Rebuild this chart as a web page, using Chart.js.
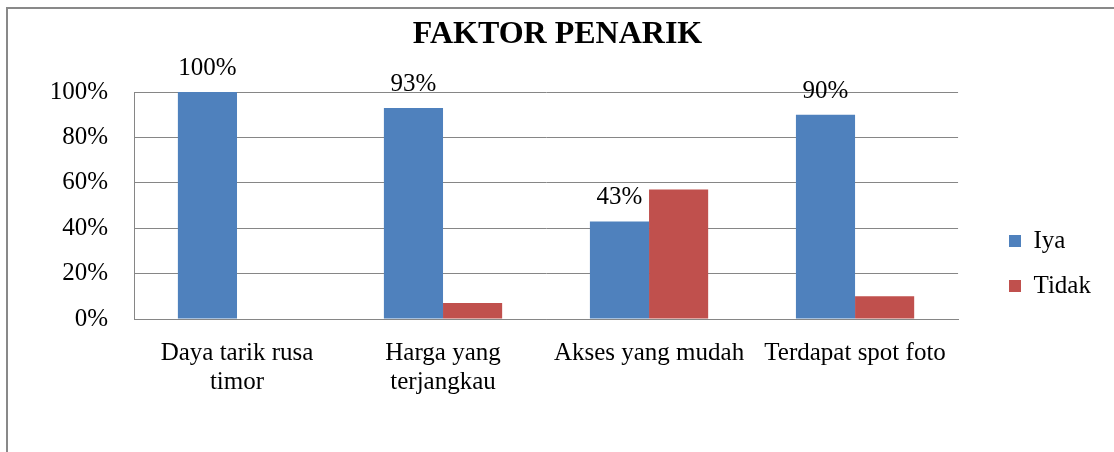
<!DOCTYPE html>
<html>
<head>
<meta charset="utf-8">
<title>Faktor Penarik</title>
<script src="https://cdn.jsdelivr.net/npm/chart.js@4"></script>
<style>
  html, body { margin: 0; padding: 0; background: #fff; overflow: hidden; }
  #frame { position: absolute; left: 6px; top: 7px; width: 1130px; height: 509px; border: 2px solid #898989; }
  canvas { display: block; }
</style>
</head>
<body>
<div id="frame"><canvas id="myChart"></canvas></div>
<script>
// Data
const categories = [["Daya tarik rusa", "timor"], ["Harga yang", "terjangkau"], "Akses yang mudah", "Terdapat spot foto"];
const iya = [100, 93, 43, 90];
const tidak = [0, 7, 57, 10];
const yTicks = [0, 20, 40, 60, 80, 100];

Chart.defaults.font.family = "'Liberation Serif', 'Times New Roman', serif";
Chart.defaults.font.size = 25;
Chart.defaults.color = "#000";

const ctx = document.getElementById("myChart").getContext("2d");

// percentage labels above the "Iya" bars
const valueLabels = {
  id: "valueLabels",
  afterDatasetsDraw(chart) {
    const c = chart.ctx;
    const meta = chart.getDatasetMeta(0);
    c.save();
    c.font = "25px 'Liberation Serif', serif";
    c.fillStyle = "#000";
    c.textAlign = "center";
    c.textBaseline = "alphabetic";
    meta.data.forEach((bar, i) => {
      c.fillText(iya[i] + "%", bar.x, bar.y - 17);
    });
    c.restore();
  },
};

// push the legend a bit away from the plot, like in Excel
const legendShift = {
  id: "legendShift",
  afterLayout(chart) {
    const shift = 1001 - (chart.legend.left + 20);
    chart.legend.left += shift;
    chart.legend.right += shift;
  },
};

const data = {
  labels: categories,
  datasets: [
    {
      label: "Iya",
      data: iya,
      backgroundColor: "#4F81BD",
      borderWidth: 0,
    },
    {
      label: "Tidak",
      data: tidak,
      backgroundColor: "#C0504D",
      borderWidth: 0,
    },
  ],
};

const config = {
  type: "bar",
  data: data,
  options: {
    responsive: true,
    maintainAspectRatio: false,
    animation: false,
    layout: {
      padding: { left: 37, right: 68, top: 0, bottom: 0 },
    },
    datasets: {
      bar: { categoryPercentage: 0.574, barPercentage: 1 },
    },
    scales: {
      x: {
        grid: { display: false },
        border: { color: "#868686", width: 1 },
        ticks: { autoSkip: false, maxRotation: 0, padding: 12, font: { lineHeight: 1.17 } },
        afterFit(scale) {
          scale.height = 199;
        },
      },
      y: {
        min: 0,
        max: 100,
        afterBuildTicks(scale) {
          scale.ticks = yTicks.map((v) => ({ value: v }));
        },
        afterFit(scale) {
          scale.width = 89;
        },
        grid: { color: "#868686", lineWidth: 1, drawTicks: false },
        border: { color: "#868686", width: 1 },
        ticks: {
          padding: 26,
          callback: (v) => v + "%",
        },
      },
    },
    plugins: {
      title: {
        display: true,
        text: "FAKTOR PENARIK",
        font: { size: 32, weight: "bold", lineHeight: 1.2 },
        color: "#000",
        padding: { top: 7, bottom: 37.6 },
      },
      legend: {
        position: "right",
        labels: {
          boxWidth: 12,
          boxHeight: 12,
          padding: 20,
          font: { size: 25 },
          color: "#000",
        },
      },
      tooltip: { enabled: false },
    },
  },
  plugins: [valueLabels, legendShift],
};

const myChart = new Chart(ctx, config);
</script>
</body>
</html>
